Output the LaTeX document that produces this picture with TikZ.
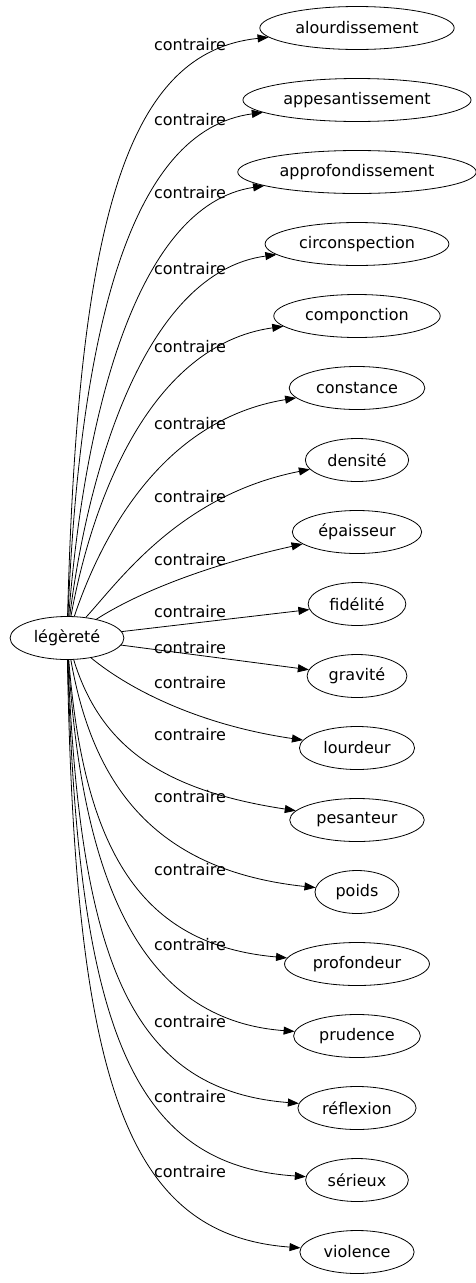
\documentclass[tikz,border=0pt]{standalone}
\usepackage{fontspec}
\setmainfont{DejaVu Sans}
\usetikzlibrary{arrows.meta,shapes.geometric}

\begin{document}
\begin{tikzpicture}[
    x=1pt,y=-1pt,font=\fontsize{16}{19}\selectfont,
    term/.style={draw,ellipse,line width=0.8pt,inner xsep=7pt,inner ysep=2pt,
      minimum height=43pt,minimum width=84pt},
    relation/.style={inner sep=0pt},
    arrow/.style={-{Triangle[length=11pt,width=8pt]},line width=0.8pt}
  ]
    \useasboundingbox (0,0) rectangle (475,1283);

    \node[term] (legerete) at (67,638) {légèreté};

    \node[term] (alourdissement) at (357,28) {alourdissement};
    \node[term] (appesantissement) at (357,100) {appesantissement};
    \node[term] (approfondissement) at (357,172) {approfondissement};
    \node[term] (circonspection) at (357,244) {circonspection};
    \node[term] (componction) at (357,316) {componction};
    \node[term] (constance) at (357,388) {constance};
    \node[term] (densite) at (357,460) {densité};
    \node[term] (epaisseur) at (357,532) {épaisseur};
    \node[term] (fidelite) at (357,604) {fidélité};
    \node[term] (gravite) at (357,676) {gravité};
    \node[term] (lourdeur) at (357,748) {lourdeur};
    \node[term] (pesanteur) at (357,820) {pesanteur};
    \node[term] (poids) at (357,892) {poids};
    \node[term] (profondeur) at (357,964) {profondeur};
    \node[term] (prudence) at (357,1036) {prudence};
    \node[term] (reflexion) at (357,1108) {réflexion};
    \node[term] (serieux) at (357,1180) {sérieux};
    \node[term] (violence) at (357,1252) {violence};

    \node[relation] (rel1) at (190,45) {contraire};
    \node[relation] (rel2) at (190,120) {contraire};
    \node[relation] (rel3) at (190,193) {contraire};
    \node[relation] (rel4) at (190,269) {contraire};
    \node[relation] (rel5) at (190,347) {contraire};
    \node[relation] (rel6) at (190,424) {contraire};
    \node[relation] (rel7) at (190,497) {contraire};
    \node[relation] (rel8) at (190,560) {contraire};
    \node[relation] (rel9) at (190,612) {contraire};
    \node[relation] (rel10) at (190,648) {contraire};
    \node[relation] (rel11) at (190,683) {contraire};
    \node[relation] (rel12) at (190,735) {contraire};
    \node[relation] (rel13) at (190,797) {contraire};
    \node[relation] (rel14) at (190,870) {contraire};
    \node[relation] (rel15) at (190,945) {contraire};
    \node[relation] (rel16) at (190,1022) {contraire};
    \node[relation] (rel17) at (190,1097) {contraire};
    \node[relation] (rel18) at (190,1172) {contraire};

    \draw[arrow] (legerete) .. controls (78,215) and (128,52) .. (alourdissement);
    \draw[arrow] (legerete) .. controls (80,330) and (130,130) .. (appesantissement);
    \draw[arrow] (legerete) .. controls (84,420) and (135,205) .. (approfondissement);
    \draw[arrow] (legerete) .. controls (88,470) and (145,272) .. (circonspection);
    \draw[arrow] (legerete) .. controls (92,500) and (150,345) .. (componction);
    \draw[arrow] (legerete) .. controls (100,540) and (160,420) .. (constance);
    \draw[arrow] (legerete) .. controls (120,580) and (180,495) .. (densite);
    \draw[arrow] (legerete) .. controls (150,585) and (230,560) .. (epaisseur);
    \draw[arrow] (legerete) -- (fidelite);
    \draw[arrow] (legerete) -- (gravite);
    \draw[arrow] (legerete) .. controls (130,690) and (200,725) .. (lourdeur);
    \draw[arrow] (legerete) .. controls (100,745) and (160,790) .. (pesanteur);
    \draw[arrow] (legerete) .. controls (92,780) and (150,870) .. (poids);
    \draw[arrow] (legerete) .. controls (84,850) and (140,945) .. (profondeur);
    \draw[arrow] (legerete) .. controls (82,880) and (140,1020) .. (prudence);
    \draw[arrow] (legerete) .. controls (80,960) and (130,1090) .. (reflexion);
    \draw[arrow] (legerete) .. controls (78,1020) and (128,1165) .. (serieux);
    \draw[arrow] (legerete) .. controls (75,1080) and (125,1235) .. (violence);
  \end{tikzpicture}
\end{document}
